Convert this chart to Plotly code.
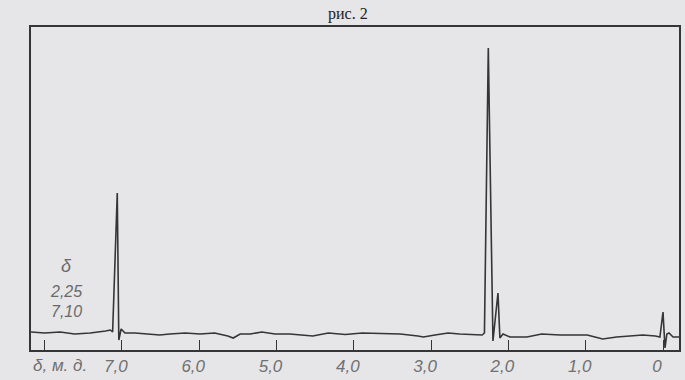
import plotly.graph_objects as go

# NMR spectrum (ppm vs. relative intensity)
shift_ppm = [8.176, 8.00, 7.80, 7.61, 7.41, 7.28, 7.21, 7.15, 7.12, 7.06, 7.04, 7.01, 6.96,
             6.83, 6.64, 6.51, 6.38, 6.18, 5.99, 5.80, 5.63, 5.56, 5.47, 5.34, 5.19,
             5.02, 4.83, 4.53, 4.33, 4.11, 3.89, 3.60, 3.40, 3.17, 3.10, 2.95, 2.78,
             2.63, 2.43, 2.34, 2.31, 2.26, 2.20, 2.135, 2.11, 2.07, 1.98, 1.76, 1.57,
             1.33, 1.14, 0.98, 0.78, 0.60, 0.43, 0.26, 0.10, 0.04, 0.00, -0.026, -0.05,
             -0.078, -0.13, -0.207]
intensity = [18, 17, 18, 16, 17, 18, 19, 20, 18, 157, 10, 21, 17,
             17, 16, 15, 16, 17, 16, 17, 14, 12, 16, 16, 18,
             16, 16, 14, 17, 15.5, 17, 16, 16, 14, 13, 15, 17,
             16, 15, 15, 17, 302, 9, 57, 12, 16, 13, 13, 16,
             15, 15, 15, 11, 13, 14, 15, 14, 13, 38, 2, 16,
             17, 13, 13]

tick_vals = [8, 7, 6, 5, 4, 3, 2, 1, 0]
tick_text = ["", "7,0", "6,0", "5,0", "4,0", "3,0", "2,0", "1,0", "0"]
axis_label = "δ, м. д."
legend_lines = ["δ", "2,25", "7,10"]
title_text = "рис. 2"

bg = "#e6e6e8"
ink = "#353535"
label_font = dict(family="Liberation Sans", size=17, color="#707070", style="italic")

fig = go.Figure()
fig.add_trace(go.Scatter(x=shift_ppm, y=intensity, mode="lines",
                         line=dict(color=ink, width=1.6), hoverinfo="skip"))

fig.update_layout(
    width=685, height=380,
    margin=dict(l=31, r=6, t=27, b=30, autoexpand=False),
    paper_bgcolor=bg, plot_bgcolor=bg,
    showlegend=False,
    xaxis=dict(range=[8.176, -0.207], showgrid=False, zeroline=False,
               showline=True, linecolor=ink, linewidth=1.8, mirror=True,
               ticks="inside", ticklen=10, tickwidth=1.2, tickcolor=ink,
               tickvals=tick_vals, ticktext=tick_text, tickfont=label_font,
               ticklabelshift=6, ticklabelstandoff=0, automargin=False),
    yaxis=dict(range=[0, 323], showgrid=False, zeroline=False,
               showline=True, linecolor=ink, linewidth=1.8, mirror=True,
               showticklabels=False, ticks="", automargin=False),
)

fig.add_annotation(xref="paper", yref="paper", x=(60 - 31) / 648,
                   y=-(366 - 350) / 323, text=axis_label, showarrow=False,
                   font=dict(family="Liberation Sans", size=17, color="#707070",
                             style="italic"),
                   xanchor="center", yanchor="middle")

for i, t in enumerate(legend_lines):
    yp = [266, 291, 311][i]
    fig.add_annotation(xref="paper", yref="paper", x=(66 - 31) / 648,
                       y=(350 - yp) / 323, text=t, showarrow=False,
                       font=dict(family="Liberation Sans", size=16 if i else 18,
                                 color="#6a6a6a", style="italic"),
                       xanchor="center", yanchor="middle")

fig.add_annotation(xref="paper", yref="paper", x=(348 - 31) / 648, y=1,
                   yanchor="bottom", yshift=2, text=title_text, showarrow=False,
                   font=dict(family="Liberation Serif", size=16, color="#222"))

fig.write_html("out.html")
